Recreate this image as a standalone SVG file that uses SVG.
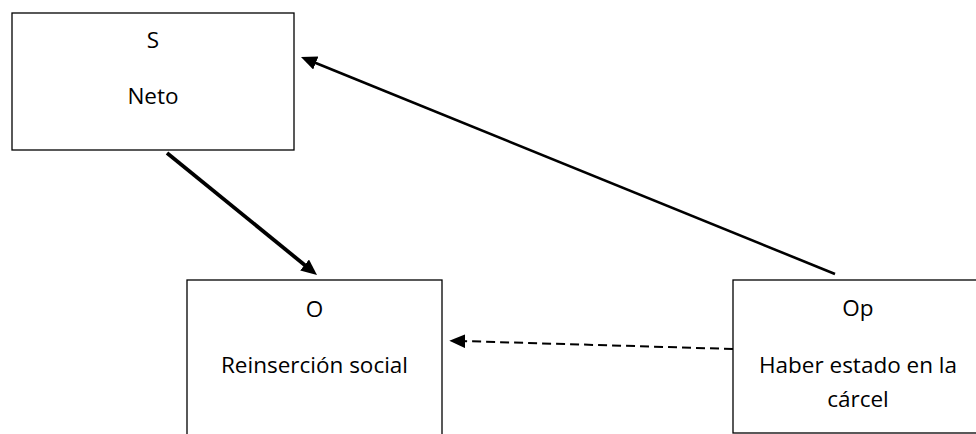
<svg xmlns="http://www.w3.org/2000/svg" width="976" height="434" viewBox="0 0 976 434">
<style>
.box{fill:#fff;stroke:#000;stroke-width:1.3}
.t{font-family:"Open Sans","Liberation Sans",sans-serif;font-size:22.5px;fill:#000;text-anchor:middle}
.c{fill:none;stroke:#000}
</style>
<defs>
<marker id="ah" markerUnits="userSpaceOnUse" markerWidth="18" markerHeight="16" refX="8" refY="7" orient="auto">
<path d="M0,0 L16,7 L0,14 z" fill="#000"/>
</marker>
</defs>
<rect width="976" height="434" fill="#fff"/>
<g id="node-S">
<rect class="box" x="12" y="13" width="282" height="137"/>
<text class="t" x="153" y="48">S</text>
<text class="t" x="153" y="104">Neto</text>
</g>
<g id="node-O">
<rect class="box" x="187" y="280" width="255" height="170"/>
<text class="t" x="314.5" y="317">O</text>
<text class="t" x="314.5" y="373">Reinserción social</text>
</g>
<g id="node-Op">
<rect class="box" x="733" y="280" width="250" height="153"/>
<text class="t" x="858" y="316">Op</text>
<text class="t" x="858" y="373">Haber estado en la</text>
<text class="t" x="858" y="407">cárcel</text>
</g>
<g id="connectors">
<line class="c" x1="167" y1="153" x2="310.8" y2="270" stroke-width="3.8" marker-end="url(#ah)"/>
<line class="c" x1="835" y1="274" x2="308.4" y2="60" stroke-width="2.6" marker-end="url(#ah)"/>
<line class="c" x1="733" y1="349" x2="457.3" y2="340.9" stroke-width="2" stroke-dasharray="9,5" marker-end="url(#ah)"/>
</g>
</svg>
